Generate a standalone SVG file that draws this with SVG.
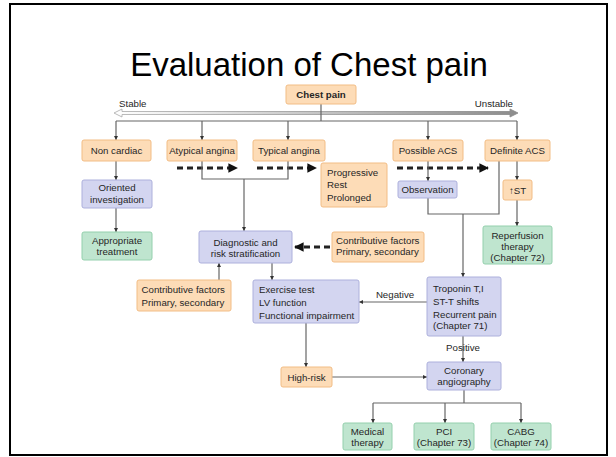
<svg xmlns="http://www.w3.org/2000/svg" width="616" height="457" viewBox="0 0 616 457">
<defs>
<style>
.t{font-family:"Liberation Sans",Arial,sans-serif;font-size:9.7px;fill:#262626}
.c{text-anchor:middle}
.o{fill:#fddcb7;stroke:#f2bd85;stroke-width:1}
.p{fill:#d3d5f0;stroke:#adb0dc;stroke-width:1}
.g{fill:#bfe5cf;stroke:#94d0ad;stroke-width:1}
.ln{fill:none;stroke:#666;stroke-width:1.2}
.ar{marker-end:url(#a)}
.ds{fill:none;stroke:#222;stroke-width:3;stroke-dasharray:6 4;marker-end:url(#d)}
</style>
<marker id="a" viewBox="0 0 10 10" refX="10" refY="5" markerWidth="4" markerHeight="4" markerUnits="userSpaceOnUse" orient="auto">
<path d="M0,0L10,5L0,10z" fill="#333"/>
</marker>
<marker id="d" viewBox="0 0 10 10" refX="9" refY="5" markerWidth="3.2" markerHeight="3.2" orient="auto">
<path d="M0,0L10,5L0,10z" fill="#111"/>
</marker>
<linearGradient id="gr" x1="114" y1="0" x2="518" y2="0" gradientUnits="userSpaceOnUse">
<stop offset="0" stop-color="#ffffff"/>
<stop offset="1" stop-color="#8c8c8c"/>
</linearGradient>
<linearGradient id="gs" x1="114" y1="0" x2="518" y2="0" gradientUnits="userSpaceOnUse">
<stop offset="0" stop-color="#aaaaaa"/>
<stop offset="1" stop-color="#888888"/>
</linearGradient>
</defs>
<rect x="0" y="0" width="616" height="457" fill="#fff"/>
<rect x="10" y="4" width="597" height="451" fill="none" stroke="#000" stroke-width="2"/>
<text x="309" y="76" text-anchor="middle" font-family="'Liberation Sans',Arial,sans-serif" font-size="33" fill="#000">Evaluation of Chest pain</text>

<g id="scale">
<polygon points="114,113 122,109 122,111.5 510,111.5 510,109 518,113 510,117 510,114.5 122,114.5 122,117" fill="url(#gr)" stroke="url(#gs)" stroke-width="0.8"/>
<text class="t" x="119" y="107" font-size="9.5">Stable</text>
<text class="t" x="513" y="107" font-size="9.5" text-anchor="end">Unstable</text>
</g>

<g id="connectors">
<path class="ln" d="M321,104V121M116,121H517"/>
<path class="ln ar" d="M116,121V140"/>
<path class="ln ar" d="M202,121V140"/>
<path class="ln ar" d="M288,121V140"/>
<path class="ln ar" d="M428,121V140"/>
<path class="ln ar" d="M517,121V140"/>
<path class="ds" d="M177,168H237"/>
<path class="ds" d="M257,168H316"/>
<path class="ds" d="M397,168H488"/>
<path class="ds" d="M330,247H295"/>
<path class="ln" d="M202,161V179H288V161"/>
<path class="ln ar" d="M244,179V231"/>
<path class="ln ar" d="M116,161V180"/>
<path class="ln ar" d="M116,208V232"/>
<path class="ln ar" d="M428,161V181"/>
<path class="ln" d="M428,198V214H499V161"/>
<path class="ln ar" d="M463,214V277"/>
<path class="ln ar" d="M517,161V180"/>
<path class="ln ar" d="M517,200V226"/>
<path class="ln ar" d="M219,280V263"/>
<path class="ln ar" d="M272,263V280"/>
<path class="ln ar" d="M427,302H359"/>
<text class="t c" x="395" y="298">Negative</text>
<path class="ln ar" d="M306,323V367"/>
<path class="ln ar" d="M332,377H427"/>
<path class="ln ar" d="M463,336V362"/>
<text class="t c" x="463" y="351">Positive</text>
<path class="ln" d="M464,390V403M373,403H521"/>
<path class="ln ar" d="M373,403V423"/>
<path class="ln ar" d="M445,403V423"/>
<path class="ln ar" d="M521,403V423"/>
</g>

<g id="chest-pain"><rect class="o" x="286" y="85" width="70" height="19" rx="2"/><text class="t c" x="321" y="98" font-weight="bold" fill="#222">Chest pain</text></g>
<g id="non-cardiac"><rect class="o" x="82" y="140" width="69" height="21" rx="2"/><text class="t c" x="116.5" y="154">Non cardiac</text></g>
<g id="atypical"><rect class="o" x="167" y="140" width="70" height="21" rx="2"/><text class="t c" x="202" y="154">Atypical angina</text></g>
<g id="typical"><rect class="o" x="253" y="140" width="72" height="21" rx="2"/><text class="t c" x="289" y="154">Typical angina</text></g>
<g id="possible-acs"><rect class="o" x="393" y="140" width="70" height="21" rx="2"/><text class="t c" x="428" y="154">Possible ACS</text></g>
<g id="definite-acs"><rect class="o" x="485" y="140" width="65" height="21" rx="2"/><text class="t c" x="517.5" y="154">Definite ACS</text></g>
<g id="progressive"><rect class="o" x="321" y="163" width="66" height="44" rx="2"/><text class="t" x="327" y="175.5">Progressive</text><text class="t" x="327" y="188">Rest</text><text class="t" x="327" y="200.5">Prolonged</text></g>
<g id="oriented"><rect class="p" x="82" y="180" width="70" height="28" rx="2"/><text class="t c" x="117" y="191">Oriented</text><text class="t c" x="117" y="202.5">investigation</text></g>
<g id="appropriate"><rect class="g" x="82" y="232" width="70" height="28" rx="2"/><text class="t c" x="117" y="243.5">Appropriate</text><text class="t c" x="117" y="255">treatment</text></g>
<g id="observation"><rect class="p" x="398" y="181" width="59" height="17" rx="2"/><text class="t c" x="427.5" y="193">Observation</text></g>
<g id="st"><rect class="o" x="503" y="180" width="29" height="20" rx="2"/><text class="t c" x="517.5" y="194">↑ST</text></g>
<g id="reperfusion"><rect class="g" x="483" y="226" width="69" height="38" rx="2"/><text class="t c" x="517.5" y="238.5">Reperfusion</text><text class="t c" x="517.5" y="249.5">therapy</text><text class="t c" x="517.5" y="260.5">(Chapter 72)</text></g>
<g id="diagnostic"><rect class="p" x="199" y="231" width="93" height="32" rx="2"/><text class="t c" x="245.5" y="246">Diagnostic and</text><text class="t c" x="245.5" y="257">risk stratification</text></g>
<g id="contrib-right"><rect class="o" x="332" y="232" width="92" height="30" rx="2"/><text class="t" x="336" y="243.5" font-size="9.4">Contributive factors</text><text class="t" x="336" y="255" font-size="9.4">Primary, secondary</text></g>
<g id="contrib-left"><rect class="o" x="137" y="280" width="94" height="31" rx="2"/><text class="t" x="141.5" y="292.5" font-size="9.4">Contributive factors</text><text class="t" x="141.5" y="305.5" font-size="9.4">Primary, secondary</text></g>
<g id="exercise"><rect class="p" x="253" y="280" width="106" height="43" rx="2"/><text class="t" x="259" y="292.5">Exercise test</text><text class="t" x="259" y="305.5">LV function</text><text class="t" x="259" y="319">Functional impairment</text></g>
<g id="troponin"><rect class="p" x="427" y="277" width="74" height="59" rx="2"/><text class="t" x="433" y="291.5">Troponin T,I</text><text class="t" x="433" y="305">ST-T shifts</text><text class="t" x="433" y="317.5">Recurrent pain</text><text class="t" x="433" y="328.5">(Chapter 71)</text></g>
<g id="high-risk"><rect class="o" x="281" y="367" width="51" height="20" rx="2"/><text class="t c" x="306.5" y="381">High-risk</text></g>
<g id="coronary"><rect class="p" x="427" y="362" width="74" height="28" rx="2"/><text class="t c" x="464" y="373.5">Coronary</text><text class="t c" x="464" y="385">angiography</text></g>
<g id="medical"><rect class="g" x="343" y="423" width="49" height="27" rx="2"/><text class="t c" x="367.5" y="434.5">Medical</text><text class="t c" x="367.5" y="445.5">therapy</text></g>
<g id="pci"><rect class="g" x="414" y="423" width="60" height="27" rx="2"/><text class="t c" x="444" y="434.5">PCI</text><text class="t c" x="444" y="445.5">(Chapter 73)</text></g>
<g id="cabg"><rect class="g" x="491" y="423" width="60" height="27" rx="2"/><text class="t c" x="521" y="434.5">CABG</text><text class="t c" x="521" y="445.5">(Chapter 74)</text></g>
</svg>
